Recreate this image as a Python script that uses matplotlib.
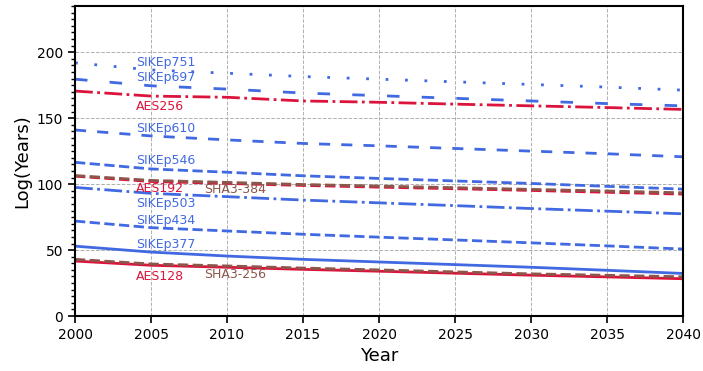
import matplotlib
matplotlib.use("Agg")
import matplotlib.pyplot as plt
from matplotlib.ticker import MultipleLocator

years = [2000, 2005, 2010, 2015, 2020, 2025, 2030, 2035, 2040]

sikep751 = [191.9, 186.5, 184.0, 181.5, 179.5, 177.5, 175.5, 173.5, 171.2]
sikep697 = [179.5, 174.5, 172.0, 169.0, 167.0, 165.0, 163.0, 161.0, 159.3]
aes256 = [170.5, 166.7, 165.8, 163.0, 162.0, 160.6, 159.3, 158.0, 156.6]
sikep610 = [141.0, 136.5, 133.5, 130.8, 129.0, 127.0, 125.0, 123.0, 120.7]
sikep546 = [116.5, 111.5, 109.0, 106.3, 104.3, 102.4, 100.5, 98.3, 96.2]
aes192 = [106.0, 102.0, 100.5, 99.0, 97.7, 96.5, 95.2, 93.8, 92.4]
sha3_384 = [106.5, 102.8, 101.3, 99.7, 98.5, 97.3, 96.0, 94.8, 93.4]
sikep503 = [97.5, 93.0, 90.5, 87.9, 85.8, 83.7, 81.5, 79.5, 77.5]
sikep434 = [72.0, 67.0, 64.5, 62.0, 59.8, 57.7, 55.5, 53.2, 50.8]
sikep377 = [53.0, 48.5, 45.5, 43.0, 41.0, 39.0, 37.0, 34.7, 32.3]
aes128 = [41.7, 38.5, 37.0, 35.4, 34.0, 32.5, 31.0, 29.7, 28.3]
sha3_256 = [43.0, 39.5, 38.0, 36.4, 35.0, 33.5, 32.0, 30.9, 29.8]

blue = "#4169E1"
red = "#DC143C"
brown = "#8c564b"
lw = 2.0

fig = plt.figure(figsize=(7.03, 3.71), dpi=100)
ax = fig.add_axes([0.1067, 0.148, 0.865, 0.836])

ax.plot(years, sikep751, color=blue, lw=lw, ls=(0, (1, 6)))
ax.plot(years, sikep697, color=blue, lw=lw, ls=(0, (4.5, 8)))
ax.plot(years, aes256, color=red, lw=lw, ls="-.")
ax.plot(years, sikep610, color=blue, lw=lw, ls=(0, (4, 4)))
ax.plot(years, sikep546, color=blue, lw=lw, ls="--")
ax.plot(years, aes192, color=red, lw=lw, ls="--")
ax.plot(years, sha3_384, color=brown, lw=lw, ls="--")
ax.plot(years, sikep503, color=blue, lw=lw, ls="-.")
ax.plot(years, sikep434, color=blue, lw=lw, ls="--")
ax.plot(years, sikep377, color=blue, lw=lw, ls="-")
ax.plot(years, aes128, color=red, lw=lw, ls="-")
ax.plot(years, sha3_256, color=brown, lw=lw, ls="--")

labels = [
    ("SIKEp751", 2004, 192.4, blue),
    ("SIKEp697", 2004, 181.0, blue),
    ("AES256", 2004, 159.0, red),
    ("SIKEp610", 2004, 142.4, blue),
    ("SIKEp546", 2004, 118.0, blue),
    ("AES192", 2004, 97.0, red),
    ("SHA3-384", 2008.5, 96.0, brown),
    ("SIKEp503", 2004, 85.0, blue),
    ("SIKEp434", 2004, 72.7, blue),
    ("SIKEp377", 2004, 54.5, blue),
    ("AES128", 2004, 30.3, red),
    ("SHA3-256", 2008.5, 31.8, brown),
]
for text, x, y, c in labels:
    ax.text(x, y, text, color=c, fontsize=9, ha="left", va="center")

ax.set_xlim(2000, 2040)
ax.set_ylim(0, 235)
ax.set_xticks(range(2000, 2041, 5))
ax.set_yticks(range(0, 201, 50))
ax.yaxis.set_minor_locator(MultipleLocator(5))
ax.tick_params(axis="both", which="major", labelsize=10, length=5, width=1.2)
ax.tick_params(axis="y", which="minor", length=3, width=1.0)
ax.grid(True, which="major", ls="--", color="#b0b0b0", lw=0.7)
ax.set_xlabel("Year", fontsize=13)
ax.set_ylabel("Log(Years)", fontsize=13)
for s in ax.spines.values():
    s.set_linewidth(1.5)

fig.savefig("out.png", dpi=100)
